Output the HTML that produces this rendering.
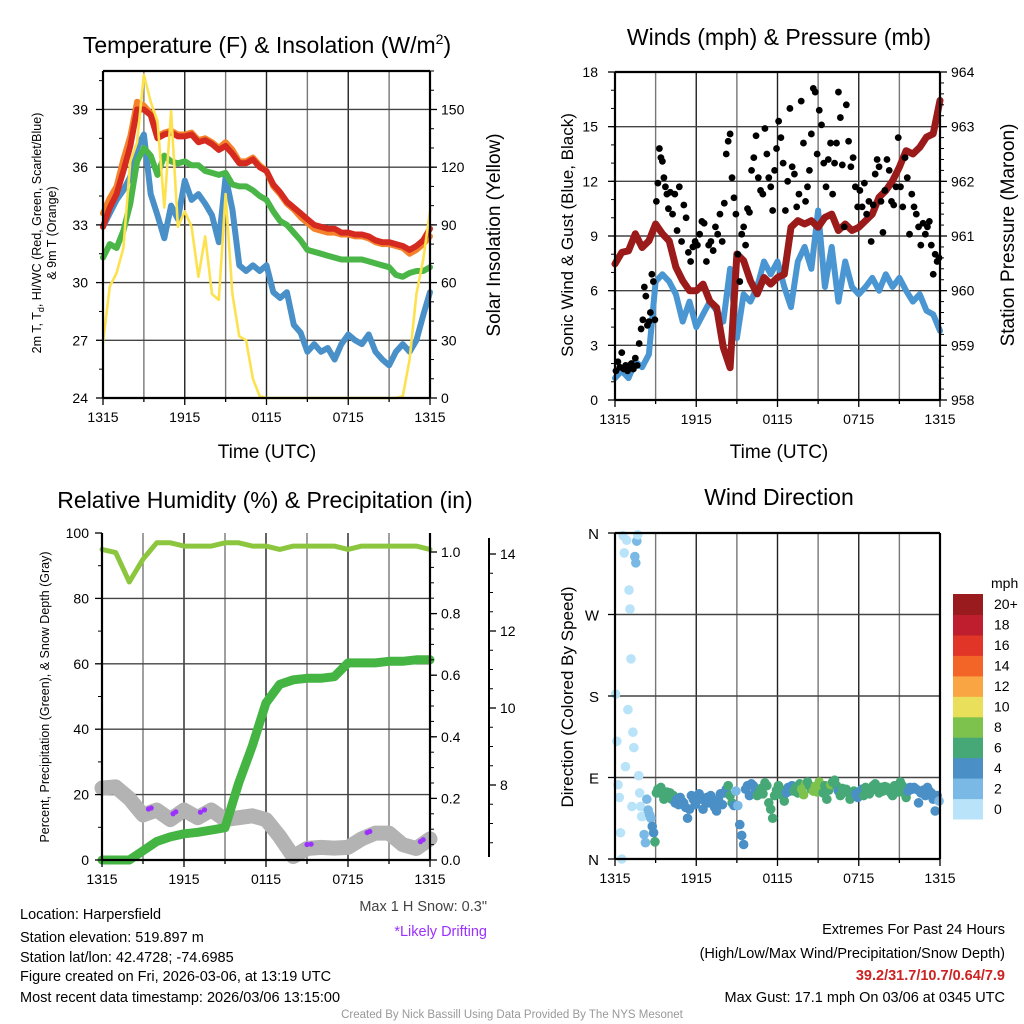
<!DOCTYPE html>
<html><head><meta charset="utf-8"><style>
html,body{margin:0;padding:0;background:#fff;}
svg{display:block;font-family:"Liberation Sans",Arial,sans-serif;}
</style></head><body>
<svg id="fig" width="1024" height="1024" viewBox="0 0 1024 1024" xmlns="http://www.w3.org/2000/svg">
<rect x="0" y="0" width="1024" height="1024" fill="#fff"/>
<g id="layerGrid"></g>
<g id="layerData"></g>
<g id="layerAxes"></g>
<text x="267" y="53" font-size="23" text-anchor="middle">Temperature (F) &amp; Insolation (W/m<tspan font-size="14" dy="-9">2</tspan><tspan dy="9">)</tspan></text>
<text x="779" y="45" font-size="23" text-anchor="middle">Winds (mph) &amp; Pressure (mb)</text>
<text x="265" y="508" font-size="23" text-anchor="middle">Relative Humidity (%) &amp; Precipitation (in)</text>
<text x="779" y="505" font-size="23" text-anchor="middle">Wind Direction</text>
<text x="267" y="458" font-size="19" text-anchor="middle">Time (UTC)</text>
<text x="779" y="458" font-size="19" text-anchor="middle">Time (UTC)</text>
<text transform="translate(41,233) rotate(-90)" font-size="12.5" text-anchor="middle">2m T, T<tspan font-size="9" dy="3">d</tspan><tspan dy="-3">, HI/WC (Red, Green, Scarlet/Blue)</tspan></text>
<text transform="translate(56,233) rotate(-90)" font-size="12.5" text-anchor="middle">&amp; 9m T (Orange)</text>
<text transform="translate(500,235) rotate(-90)" font-size="19" text-anchor="middle">Solar Insolation (Yellow)</text>
<text transform="translate(573,235) rotate(-90)" font-size="17" text-anchor="middle">Sonic Wind &amp; Gust (Blue, Black)</text>
<text transform="translate(1014,235) rotate(-90)" font-size="19" text-anchor="middle">Station Pressure (Maroon)</text>
<text transform="translate(49,697) rotate(-90)" font-size="12.5" text-anchor="middle">Percent, Precipitation (Green), &amp; Snow Depth (Gray)</text>
<text transform="translate(573,697) rotate(-90)" font-size="17" text-anchor="middle">Direction (Colored By Speed)</text>
<text x="991" y="588" font-size="14">mph</text>
<g font-size="14.5">
<text x="20" y="919">Location: Harpersfield</text>
<text x="20" y="942">Station elevation: 519.897 m</text>
<text x="20" y="962">Station lat/lon: 42.4728; -74.6985</text>
<text x="20" y="981">Figure created on Fri, 2026-03-06, at 13:19 UTC</text>
<text x="20" y="1002">Most recent data timestamp: 2026/03/06 13:15:00</text>
</g>
<text x="487" y="911" font-size="14.5" fill="#444" text-anchor="end">Max 1 H Snow: 0.3"</text>
<text x="487" y="936" font-size="14.5" fill="#9b30ff" text-anchor="end">*Likely Drifting</text>
<g font-size="14.5" text-anchor="end">
<text x="1005" y="934">Extremes For Past 24 Hours</text>
<text x="1005" y="958">(High/Low/Max Wind/Precipitation/Snow Depth)</text>
<text x="1005" y="980" font-weight="bold" fill="#cc2222">39.2/31.7/10.7/0.64/7.9</text>
<text x="1005" y="1002">Max Gust: 17.1 mph On 03/06 at 0345 UTC</text>
</g>
<text x="512" y="1018" font-size="11.5" fill="#999" text-anchor="middle">Created By Nick Bassill Using Data Provided By The NYS Mesonet</text>
</svg>
<script>
// ---------- DATA (half-hourly unless noted, hours since 1315 UTC) ----------
const xTickLabels = ["1315","1915","0115","0715","1315"];
const tempTicks = [24,27,30,33,36,39];
const solarTicks = [0,30,60,90,120,150];
const windTicks = [0,3,6,9,12,15,18];
const presTicks = [958,959,960,961,962,963,964];
const rhTicks = [0,20,40,60,80,100];
const precipTicks = ["0.0","0.2","0.4","0.6","0.8","1.0"];
const snowTicks = [8,10,12,14];
const dirTicks = ["N","E","S","W","N"];
const cbarLabels = ["0","2","4","6","8","10","12","14","16","18","20+"];

const temp2m = [32.9,33.9,34.6,35.8,37.1,39.0,39.0,38.7,37.5,37.7,37.8,37.6,37.6,37.7,37.3,37.4,37.2,36.9,37.1,36.7,36.2,36.2,36.4,36.0,35.8,35.1,34.7,34.2,33.9,33.6,33.3,33.0,32.9,32.8,32.8,32.6,32.6,32.5,32.5,32.4,32.2,32.1,32.1,32.0,31.9,31.7,31.9,32.2,32.8];
const temp9m = [33.6,34.4,35.0,36.4,37.6,39.4,39.2,38.8,37.6,37.8,37.9,37.7,37.7,37.8,37.4,37.5,37.3,37.0,37.3,36.9,36.3,36.3,36.5,36.1,35.8,35.0,34.6,34.1,33.8,33.4,33.1,32.8,32.7,32.6,32.6,32.5,32.5,32.4,32.4,32.3,32.1,32.0,32.0,31.9,31.8,31.5,31.7,32.0,32.4];
const heatIndex = [31.3,32.0,31.8,32.7,34.1,36.3,37.0,36.6,35.6,36.6,36.3,36.2,36.3,36.1,36.1,35.8,35.7,35.6,35.7,35.1,35.0,35.0,34.8,34.5,34.3,33.7,33.2,33.0,32.6,32.2,31.7,31.6,31.5,31.4,31.3,31.2,31.2,31.2,31.2,31.1,31.0,30.9,30.8,30.4,30.3,30.5,30.6,30.6,30.8];
const dewpoint = [32.9,33.6,34.3,34.8,35.5,37.0,37.7,34.6,33.5,32.3,34.0,33.3,35.3,34.3,34.6,34.1,33.5,32.1,35.5,33.8,30.9,30.6,30.9,30.6,30.9,29.5,29.2,29.5,27.8,27.4,26.4,26.8,26.4,26.6,26.0,26.8,27.3,27.0,26.8,27.3,26.4,26.0,25.7,26.4,26.8,26.4,27.0,28.3,29.5];
const solar = [29,58,65,78,123,133,168,154,144,99,149,89,97,89,63,84,54,51,106,54,32,30,10,1,0,0,0,0,0,0,0,0,0,0,0,0,0,0,0,0,0,0,0,0,1,20,54,72,97];

const sonicWind = [1.2,1.6,1.2,2.1,1.8,2.5,6.5,6.9,6.5,5.8,4.3,5.4,4.0,4.7,5.4,4.9,4.3,7.2,3.4,5.8,5.4,6.2,7.6,6.9,7.6,6.2,5.1,7.6,8.4,7.2,10.4,6.2,8.4,5.4,7.6,6.2,5.8,6.2,6.7,6.0,6.9,6.2,6.7,6.0,5.4,5.8,4.9,4.7,3.8];
const pressure = [960.49,960.70,960.73,961.04,960.79,960.91,961.22,961.04,960.91,960.43,960.18,960.00,960.00,960.12,959.81,959.69,958.96,958.59,960.67,960.55,960.18,959.94,960.24,960.12,960.24,960.30,961.16,961.28,961.22,961.28,961.16,961.34,961.40,961.10,961.22,961.10,961.16,961.28,961.40,961.71,961.83,962.01,962.26,962.56,962.50,962.62,962.81,962.87,963.48];
// gusts grouped by hour (each spread evenly inside its hour)
const gustByHour = [
 [1.6,2.1,1.8,2.6,1.7,1.9,1.6],
 [1.9,2.0,1.7,2.3,1.9,3.1,3.9],
 [4.4,6.2,5.7,4.1,4.3,4.8,6.9,6.5,4.4],
 [10.9,11.9,13.8,13.3,13.1,12.2,11.7,11.3,10.5],
 [11.4,10.2,11.3,9.3,11.7,8.7],
 [10.7,10.0,8.1,7.6,8.4,8.7],
 [8.5,9.1,9.8,9.7,7.6,8.5],
 [8.7,8.2,9.5,9.1,10.2,8.7],
 [10.8,13.5,14.2,14.6,12.2,11.1,10.2],
 [8.0,6.5,9.1,9.5,8.5,10.5,10.3],
 [12.6,13.3,14.5,12.2,11.5,11.3],
 [14.9,13.5,12.2,11.7,10.4,12.6,13.8],
 [15.3,14.4,13.0,10.4,12.0,16.0],
 [12.8,12.4,10.6,11.3,16.4,14.1],
 [10.9,11.7,12.6,14.6,17.1,16.9,13.5],
 [15.9,15.1,13.0,11.7,13.2,14.1],
 [11.3,13.0,14.1,16.9,15.5,12.9,9.5],
 [16.2,14.2,12.8,13.3,11.7,10.6],
 [11.5,10.6,11.9,10.2,10.9,8.7],
 [10.7,12.4,13.2,12.8,10.9,9.2,11.5],
 [13.2,12.6,10.9,10.7,11.7,14.4],
 [11.7,10.6,13.3,12.2,9.1,11.3],
 [10.6,10.2,9.5,8.5,9.7,9.1],
 [9.5,9.8,8.5,6.9,8.0,7.6,7.8]
];

// hourly series for humidity panel
const rhHourly = [95,94,85,92,97,97,96,96,96,97,97,96,96,95,96,96,96,96,95,96,96,96,96,96,95];
const precipHourly = [0,0,0,0.03,0.06,0.075,0.085,0.09,0.097,0.105,0.25,0.37,0.51,0.57,0.585,0.59,0.59,0.595,0.64,0.64,0.64,0.645,0.645,0.65,0.65];
const snowHourly = [7.92,7.95,7.65,7.22,7.35,7.1,7.35,7.15,7.35,7.1,7.15,7.2,7.1,6.66,6.14,6.35,6.38,6.36,6.38,6.6,6.75,6.75,6.45,6.35,6.6];
const driftHours = [3.4,3.6,5.2,5.4,7.2,7.5,15.0,15.3,19.4,19.6,23.3,23.5];

// wind direction grouped by hour (degrees)
const dirByHour = [
 [182,130,82,68,29,0,357,338,102,352,165],
 [297,276,221,58,140,123,334,327,351,358,92,73,58,47],
 [47,27,18,66,54,49,45,36,29,19],
 [73,77,73,79,75,66,70,74,71],
 [73,66,70,62,66,60,68,64],
 [62,57,45,55,70,66,60],
 [70,72,66,55,64,68,62],
 [70,62,57,53,66,72,60],
 [73,77,81,70,62,59,75],
 [59,38,26,16,77,81,70],
 [83,81,75,70,73,78,72],
 [84,81,62,55,45,70,76],
 [81,77,70,64,73,79,75],
 [81,75,79,73,83,77,71],
 [83,85,81,77,75,80,74],
 [85,79,73,81,66,76,82],
 [85,87,81,75,70,78,74],
 [77,73,66,70,75,72,68],
 [73,77,70,79,75,72,76],
 [81,83,77,73,79,75,80],
 [79,77,73,70,81,76,74],
 [85,81,73,68,75,79,77],
 [79,77,62,73,76,70],
 [79,75,73,66,53,70,64]
];
const cbarColors = ["#b9e3f8","#7ab9e5","#4a8fc6","#47a877","#7cc24c","#e9df5a","#f9a544","#f26527","#e03527","#be1e2d","#9a1b1e"];

// ---------- SCALES ----------
const P1 = {l:103,r:430,t:71,b:398};
const P2 = {l:615,r:940,t:72,b:400};
const P3 = {l:102,r:430,t:533,b:860};
const P4 = {l:615,r:940,t:533,b:859};
const x1 = h => P1.l + h*(P1.r-P1.l)/24;
const yT = v => P1.b - (v-24)*(P1.b-P1.t)/17;
const ySol = w => P1.b - w*(P1.b-P1.t)/170;
const x2 = h => P2.l + h*(P2.r-P2.l)/24;
const yW = v => P2.b - v*(P2.b-P2.t)/18;
const yP = p => P2.b - (p-958)*(P2.b-P2.t)/6;
const x3 = h => P3.l + h*(P3.r-P3.l)/24;
const yRH = v => P3.b - v*(P3.b-P3.t)/100;
const yPr = v => 860 - v*308;
const ySn = s => 785 - (s-8)*38.5;
const x4 = h => P4.l + h*(P4.r-P4.l)/24;
const yD = d => P4.b - d*(P4.b-P4.t)/360;

const NS="http://www.w3.org/2000/svg";
const gG=document.getElementById('layerGrid'), gD=document.getElementById('layerData'), gA=document.getElementById('layerAxes');
function mk(parent,tag,attrs,txt){const e=document.createElementNS(NS,tag);for(const k in attrs)e.setAttribute(k,attrs[k]);if(txt!==undefined)e.textContent=txt;parent.appendChild(e);return e;}
function pathFrom(arr,step,xf,yf){return arr.map((v,i)=>(i?'L':'M')+xf(i*step).toFixed(1)+','+yf(v).toFixed(1)).join(' ');}
function interp(arr,step,h){const i=Math.min(Math.floor(h/step),arr.length-2);const f=(h-i*step)/step;return arr[i]+(arr[i+1]-arr[i])*f;}

function grids(P,xf,name,yvals,yf){
  for(let h=3;h<24;h+=3){const l=mk(gG,'line',{x1:xf(h),x2:xf(h),y1:P.t,y2:P.b,stroke:(h%6==0)?'#222':'#777','stroke-width':1.4});
    
    }
  yvals.forEach(v=>{const l=mk(gG,'line',{x1:P.l,x2:P.r,y1:yf(v),y2:yf(v),stroke:'#444','stroke-width':1.4});
    
    });
}
function frame(P,name,noTop){
  const parts=[[P.l,P.t,P.l,P.b],[P.l,P.b,P.r,P.b],[P.r,P.t,P.r,P.b]];
  if(!noTop)parts.push([P.l,P.t,P.r,P.t]);
  parts.forEach(p=>{const l=mk(gA,'line',{x1:p[0],y1:p[1],x2:p[2],y2:p[3],stroke:'#000','stroke-width':2.2});
    
    });
}
function xAxis(P,xf,name){
  for(let h=0;h<=24;h+=3){const l=mk(gA,'line',{x1:xf(h),x2:xf(h),y1:P.b,y2:P.b+(h%6==0?7:4),stroke:'#000','stroke-width':1.3});
    
    }
  xTickLabels.forEach((s,i)=>{const t=mk(gA,'text',{x:xf(i*6),y:P.b+24,'font-size':14,'text-anchor':'middle'},s);
    
    });
}
function yAxis(vals,labels,yf,x,side,name,minor,off){
  const d=side=='left'?-1:1;
  const o=off||11;
  vals.forEach((v,i)=>{const l=mk(gA,'line',{x1:x,x2:x+d*7,y1:yf(v),y2:yf(v),stroke:'#000','stroke-width':1.3});
    
    
    const t=mk(gA,'text',{x:x+d*o,y:yf(v)+5,'font-size':14,'text-anchor':side=='left'?'end':'start'},labels[i]);
    
    });
  (minor||[]).forEach(v=>{const l=mk(gA,'line',{x1:x,x2:x+d*4,y1:yf(v),y2:yf(v),stroke:'#000','stroke-width':1});
    
    });
}
function line(d,color,w,name){const p=mk(gD,'path',{d:d,fill:'none',stroke:color,'stroke-width':w,'stroke-linejoin':'round','stroke-linecap':'round'});
  
  return p;}
const range=(a,b,s)=>{const r=[];for(let v=a;v<=b+1e-9;v+=s)r.push(+v.toFixed(3));return r;};

// ---------- PANEL 1 ----------
grids(P1,x1,'temperature',[27,30,33,36,39],yT);
line(pathFrom(dewpoint,0.5,x1,yT),'#4a90c8',6,'dewpoint-line');
line(pathFrom(heatIndex,0.5,x1,yT),'#4bb648',6,'heat-index-line');
line(pathFrom(temp9m,0.5,x1,yT),'#f5822a',6,'temp-9m-line');
line(pathFrom(temp2m,0.5,x1,yT),'#d42a20',6,'temp-2m-line');
line(pathFrom(solar,0.5,x1,ySol),'#fde24f',2.6,'solar-insolation-line');
frame(P1,'temperature');
xAxis(P1,x1,'temperature');
yAxis(tempTicks,tempTicks.map(String),yT,P1.l,'left','temperature-y',range(25.5,40.5,3),15);
yAxis(solarTicks,solarTicks.map(String),ySol,P1.r,'right','solar-y',range(10,170,10));

// ---------- PANEL 2 ----------
grids(P2,x2,'winds',[3,6,9,12,15],yW);
line(pathFrom(sonicWind,0.5,x2,yW),'#4a96d2',6,'sonic-wind-line');
line(pathFrom(pressure,0.5,x2,yP),'#9b1a1a',7,'pressure-line');
gustByHour.forEach((grp,h)=>grp.forEach((v,j)=>{
  const c=mk(gD,'circle',{cx:x2(h+(j+0.5)/grp.length),cy:yW(v),r:3.4,fill:'#000'});
  
  
}));
frame(P2,'winds');
xAxis(P2,x2,'winds');
yAxis(windTicks,windTicks.map(String),yW,P2.l,'left','wind-y',range(1,17,1),17);
yAxis(presTicks,presTicks.map(String),yP,P2.r,'right','pressure-y',range(958.2,963.8,0.2));

// ---------- PANEL 3 ----------
grids(P3,x3,'humidity',[20,40,60,80],yRH);
line(pathFrom(snowHourly,1,x3,ySn),'#b3b3b3',15,'snow-depth-line');
driftHours.forEach(h=>{const c=mk(gD,'circle',{cx:x3(h),cy:ySn(interp(snowHourly,1,h))-4,r:2.6,fill:'#9b30ff'});
  
  });
line(pathFrom(precipHourly,1,x3,yPr),'#44b443',9,'precipitation-line');
line(pathFrom(rhHourly,1,x3,yRH),'#8cc63f',5,'relative-humidity-line');
frame(P3,'humidity',true);
xAxis(P3,x3,'humidity');
yAxis(rhTicks,rhTicks.map(String),yRH,P3.l,'left','humidity-y',range(10,90,20),13);
yAxis([0,0.2,0.4,0.6,0.8,1.0],precipTicks,yPr,P3.r,'right','precip-y',range(0.05,1.0,0.05));
{const l=mk(gA,'line',{x1:489,x2:489,y1:538,y2:857,stroke:'#000','stroke-width':2});
 
 }
yAxis(snowTicks,snowTicks.map(String),ySn,489,'right','snow-y',range(6.5,14,0.5));

// ---------- PANEL 4 ----------
grids(P4,x4,'direction',[90,180,270],yD);
function speedColor(s){return cbarColors[Math.max(0,Math.min(10,Math.floor(s/2)))];}
dirByHour.forEach((grp,h)=>grp.forEach((d,j)=>{
  const hh=h+(j+0.5)/grp.length;
  const c=mk(gD,'circle',{cx:x4(hh),cy:yD(d),r:4.8,fill:speedColor(interp(sonicWind,0.5,hh))});
  
  
}));
frame(P4,'direction');
xAxis(P4,x4,'direction');
[0,90,180,270,360].forEach((d,i)=>{
  const l=mk(gA,'line',{x1:P4.l,x2:P4.l-7,y1:yD(d),y2:yD(d),stroke:'#000','stroke-width':1.3});
  
  
  const t=mk(gA,'text',{x:P4.l-16,y:yD(d)+6,'font-size':15,'text-anchor':'end'},dirTicks[i]);
  
  
});
// colorbar
cbarColors.forEach((c,i)=>{
  const top=819-(i+1)*225/11;
  const r=mk(gA,'rect',{x:953,y:top.toFixed(1),width:30,height:(225/11+0.5).toFixed(1),fill:c});
  
  
  const t=mk(gA,'text',{x:994,y:(top+225/22+5).toFixed(1),'font-size':14},cbarLabels[i]);
  
  
});
</script>
</body></html>
